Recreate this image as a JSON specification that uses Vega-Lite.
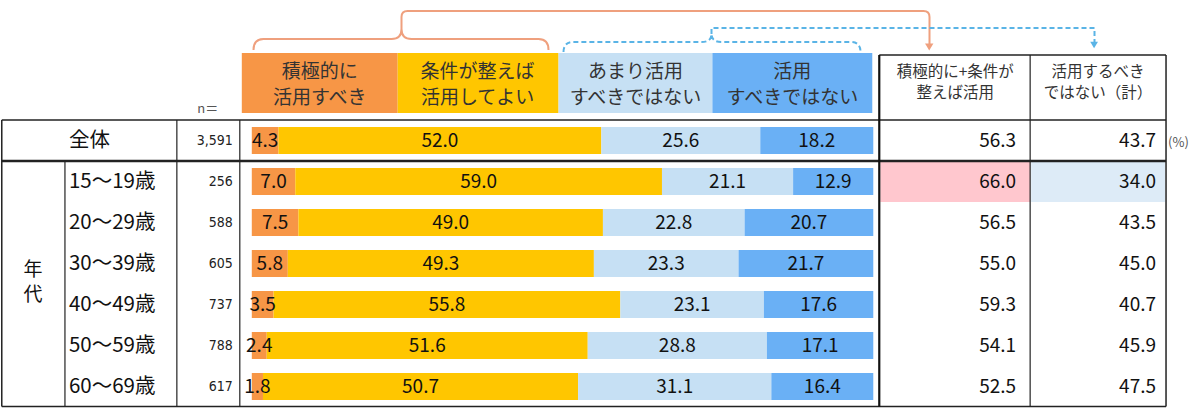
{
  "$schema": "https://vega.github.io/schema/vega-lite/v6.json",
  "width": 1200,
  "height": 410,
  "autosize": {"type": "fit", "contains": "padding"},
  "padding": 0,
  "background": "white",
  "config": {"view": {"stroke": null}, "axis": {"disable": true}, "legend": {"disable": true}},
  "datasets": {
    "answers": [
      {"group": "全体", "opt": 1, "answer": "積極的に活用すべき", "pct": 4.3},
      {"group": "全体", "opt": 2, "answer": "条件が整えば活用してよい", "pct": 52.0},
      {"group": "全体", "opt": 3, "answer": "あまり活用すべきではない", "pct": 25.6},
      {"group": "全体", "opt": 4, "answer": "活用すべきではない", "pct": 18.2},
      {"group": "15～19歳", "opt": 1, "answer": "積極的に活用すべき", "pct": 7.0},
      {"group": "15～19歳", "opt": 2, "answer": "条件が整えば活用してよい", "pct": 59.0},
      {"group": "15～19歳", "opt": 3, "answer": "あまり活用すべきではない", "pct": 21.1},
      {"group": "15～19歳", "opt": 4, "answer": "活用すべきではない", "pct": 12.9},
      {"group": "20～29歳", "opt": 1, "answer": "積極的に活用すべき", "pct": 7.5},
      {"group": "20～29歳", "opt": 2, "answer": "条件が整えば活用してよい", "pct": 49.0},
      {"group": "20～29歳", "opt": 3, "answer": "あまり活用すべきではない", "pct": 22.8},
      {"group": "20～29歳", "opt": 4, "answer": "活用すべきではない", "pct": 20.7},
      {"group": "30～39歳", "opt": 1, "answer": "積極的に活用すべき", "pct": 5.8},
      {"group": "30～39歳", "opt": 2, "answer": "条件が整えば活用してよい", "pct": 49.3},
      {"group": "30～39歳", "opt": 3, "answer": "あまり活用すべきではない", "pct": 23.3},
      {"group": "30～39歳", "opt": 4, "answer": "活用すべきではない", "pct": 21.7},
      {"group": "40～49歳", "opt": 1, "answer": "積極的に活用すべき", "pct": 3.5},
      {"group": "40～49歳", "opt": 2, "answer": "条件が整えば活用してよい", "pct": 55.8},
      {"group": "40～49歳", "opt": 3, "answer": "あまり活用すべきではない", "pct": 23.1},
      {"group": "40～49歳", "opt": 4, "answer": "活用すべきではない", "pct": 17.6},
      {"group": "50～59歳", "opt": 1, "answer": "積極的に活用すべき", "pct": 2.4},
      {"group": "50～59歳", "opt": 2, "answer": "条件が整えば活用してよい", "pct": 51.6},
      {"group": "50～59歳", "opt": 3, "answer": "あまり活用すべきではない", "pct": 28.8},
      {"group": "50～59歳", "opt": 4, "answer": "活用すべきではない", "pct": 17.1},
      {"group": "60～69歳", "opt": 1, "answer": "積極的に活用すべき", "pct": 1.8},
      {"group": "60～69歳", "opt": 2, "answer": "条件が整えば活用してよい", "pct": 50.7},
      {"group": "60～69歳", "opt": 3, "answer": "あまり活用すべきではない", "pct": 31.1},
      {"group": "60～69歳", "opt": 4, "answer": "活用すべきではない", "pct": 16.4}
    ],
    "summary": [
      {"group": "全体", "n": "3,591", "agree": 56.3, "disagree": 43.7},
      {"group": "15～19歳", "n": "256", "agree": 66.0, "disagree": 34.0},
      {"group": "20～29歳", "n": "588", "agree": 56.5, "disagree": 43.5},
      {"group": "30～39歳", "n": "605", "agree": 55.0, "disagree": 45.0},
      {"group": "40～49歳", "n": "737", "agree": 59.3, "disagree": 40.7},
      {"group": "50～59歳", "n": "788", "agree": 54.1, "disagree": 45.9},
      {"group": "60～69歳", "n": "617", "agree": 52.5, "disagree": 47.5}
    ]
  },
  "resolve": {"scale": {"y": "independent", "x": "shared"}},
  "layer": [
    {
      "layer": [
        {
          "data": {"name": "summary"},
          "transform": [{"filter": "datum.group === '15～19歳'"}],
          "mark": {"type": "rect", "color": "#FFC7CE"},
          "encoding": {
            "y": {"field": "group", "type": "nominal", "axis": null,
                  "scale": {"domain": ["全体", "15～19歳", "20～29歳", "30～39歳", "40～49歳", "50～59歳", "60～69歳"], "range": [120, 407], "paddingInner": 0, "paddingOuter": 0}},
            "x": {"datum": 1.01125, "scale": {"domain": [-0.40354, 1.52572], "nice": false, "zero": false}, "axis": null},
            "x2": {"datum": 1.25241}
          }
        },
        {
          "data": {"name": "summary"},
          "transform": [{"filter": "datum.group === '15～19歳'"}],
          "mark": {"type": "rect", "color": "#DDEBF7"},
          "encoding": {
            "y": {"field": "group", "type": "nominal"},
            "x": {"datum": 1.25402},
            "x2": {"datum": 1.46945}
          }
        },
        {
          "data": {"name": "answers"},
          "mark": {"type": "bar", "height": 27},
          "encoding": {
            "y": {"field": "group", "type": "nominal"},
            "x": {"field": "pct", "type": "quantitative", "stack": "normalize", "axis": null},
            "color": {"field": "answer", "type": "nominal", "legend": null,
                      "scale": {"domain": ["積極的に活用すべき", "条件が整えば活用してよい", "あまり活用すべきではない", "活用すべきではない"],
                                "range": ["#F79646", "#FFC600", "#C6E0F4", "#6AB0F5"]}},
            "order": {"field": "opt"}
          }
        },
        {
          "data": {"name": "answers"},
          "mark": {"type": "text", "font": "Noto Sans CJK JP", "fontSize": 19, "color": "#111", "baseline": "middle"},
          "encoding": {
            "y": {"field": "group", "type": "nominal"},
            "x": {"field": "pct", "type": "quantitative", "stack": "normalize", "bandPosition": 0.5},
            "detail": {"field": "answer"},
            "order": {"field": "opt"},
            "text": {"field": "pct", "type": "quantitative", "format": ".1f"}
          }
        },
        {
          "data": {"name": "summary"},
          "mark": {"type": "text", "font": "Noto Sans CJK JP", "fontSize": 20.5, "color": "#111", "align": "left", "baseline": "middle"},
          "encoding": {
            "y": {"field": "group", "type": "nominal"},
            "x": {"datum": -0.2942},
            "text": {"field": "group"}
          }
        },
        {
          "data": {"name": "summary"},
          "mark": {"type": "text", "font": "DejaVu Sans Condensed, Liberation Sans, sans-serif", "fontSize": 14, "color": "#222", "align": "right", "baseline": "middle"},
          "encoding": {
            "y": {"field": "group", "type": "nominal"},
            "x": {"datum": -0.03055},
            "text": {"field": "n"}
          }
        },
        {
          "data": {"name": "summary"},
          "mark": {"type": "text", "font": "Noto Sans CJK JP", "fontSize": 19, "color": "#111", "align": "right", "baseline": "middle"},
          "encoding": {
            "y": {"field": "group", "type": "nominal"},
            "x": {"datum": 1.2299},
            "text": {"field": "agree", "type": "quantitative", "format": ".1f"}
          }
        },
        {
          "data": {"name": "summary"},
          "mark": {"type": "text", "font": "Noto Sans CJK JP", "fontSize": 19, "color": "#111", "align": "right", "baseline": "middle"},
          "encoding": {
            "y": {"field": "group", "type": "nominal"},
            "x": {"datum": 1.45498},
            "text": {"field": "disagree", "type": "quantitative", "format": ".1f"}
          }
        }
      ]
    },
    {
      "data": {"values": [{}]},
      "layer": [
        {
          "mark": {"type": "rect", "color": "#F79646"},
          "encoding": {
            "x": {"datum": -0.01608, "scale": {"domain": [-0.40354, 1.52572], "nice": false, "zero": false}},
            "x2": {"datum": 0.23473},
            "y": {"datum": -1.63415, "scale": {"domain": [-2.92683, 7.07317], "reverse": true, "nice": false, "zero": false}, "axis": null},
            "y2": {"datum": -0.17073}
          }
        },
        {
          "mark": {"type": "rect", "color": "#FFC600"},
          "encoding": {"x": {"datum": 0.23473}, "x2": {"datum": 0.49357}, "y": {"datum": -1.63415}, "y2": {"datum": -0.17073}}
        },
        {
          "mark": {"type": "rect", "color": "#C6E0F4"},
          "encoding": {"x": {"datum": 0.49357}, "x2": {"datum": 0.74116}, "y": {"datum": -1.63415}, "y2": {"datum": -0.17073}}
        },
        {
          "mark": {"type": "rect", "color": "#6AB0F5"},
          "encoding": {"x": {"datum": 0.74116}, "x2": {"datum": 0.99839}, "y": {"datum": -1.63415}, "y2": {"datum": -0.17073}}
        },
        {
          "mark": {"type": "text", "font": "Noto Sans CJK JP", "fontSize": 19, "color": "#333", "lineHeight": 26, "baseline": "middle"},
          "encoding": {"x": {"datum": 0.10932}, "y": {"datum": -1.17073}, "text": {"value": ["積極的に", "活用すべき"]}}
        },
        {
          "mark": {"type": "text", "font": "Noto Sans CJK JP", "fontSize": 19, "color": "#333", "lineHeight": 26, "baseline": "middle"},
          "encoding": {"x": {"datum": 0.36334}, "y": {"datum": -1.17073}, "text": {"value": ["条件が整えば", "活用してよい"]}}
        },
        {
          "mark": {"type": "text", "font": "Noto Sans CJK JP", "fontSize": 19, "color": "#333", "lineHeight": 26, "baseline": "middle"},
          "encoding": {"x": {"datum": 0.61736}, "y": {"datum": -1.17073}, "text": {"value": ["あまり活用", "すべきではない"]}}
        },
        {
          "mark": {"type": "text", "font": "Noto Sans CJK JP", "fontSize": 19, "color": "#333", "lineHeight": 26, "baseline": "middle"},
          "encoding": {"x": {"datum": 0.86977}, "y": {"datum": -1.17073}, "text": {"value": ["活用", "すべきではない"]}}
        },
        {
          "mark": {"type": "text", "font": "Noto Sans CJK JP", "fontSize": 15.5, "color": "#333", "lineHeight": 21, "baseline": "middle"},
          "encoding": {"x": {"datum": 1.13183}, "y": {"datum": -1.17073}, "text": {"value": ["積極的に+条件が", "整えば活用"]}}
        },
        {
          "mark": {"type": "text", "font": "Noto Sans CJK JP", "fontSize": 15.5, "color": "#333", "lineHeight": 21, "baseline": "middle"},
          "encoding": {"x": {"datum": 1.36174}, "y": {"datum": -1.17073}, "text": {"value": ["活用するべき", "ではない（計）"]}}
        },
        {
          "mark": {"type": "text", "font": "Noto Sans CJK JP", "fontSize": 13, "color": "#555", "baseline": "middle"},
          "encoding": {"x": {"datum": -0.07074}, "y": {"datum": -0.26829}, "text": {"value": "n＝"}}
        },
        {
          "mark": {"type": "text", "font": "Noto Sans CJK JP", "fontSize": 13, "color": "#555", "align": "left", "baseline": "middle"},
          "encoding": {"x": {"datum": 1.47428}, "y": {"datum": 0.561}, "text": {"value": "(%)"}}
        },
        {
          "mark": {"type": "text", "font": "Noto Sans CJK JP", "fontSize": 19, "color": "#111", "lineHeight": 25, "baseline": "middle"},
          "encoding": {"x": {"datum": -0.352}, "y": {"datum": 3.659}, "text": {"value": ["年", "代"]}}
        },
        {
          "mark": {"type": "rule", "color": "#222", "strokeWidth": 1.5},
          "encoding": {"x": {"datum": -0.4023}, "x2": {"datum": 1.47106}, "y": {"datum": 0}, "y2": {"datum": 0}}
        },
        {
          "mark": {"type": "rule", "color": "#222", "strokeWidth": 2.5},
          "encoding": {"x": {"datum": -0.4023}, "x2": {"datum": 1.47106}, "y": {"datum": 1}, "y2": {"datum": 1}}
        },
        {
          "mark": {"type": "rule", "color": "#222", "strokeWidth": 1.5},
          "encoding": {"x": {"datum": -0.4023}, "x2": {"datum": 1.47106}, "y": {"datum": 6.99}, "y2": {"datum": 6.99}}
        },
        {
          "mark": {"type": "rule", "color": "#222", "strokeWidth": 1.5},
          "encoding": {"x": {"datum": 1.00965}, "x2": {"datum": 1.47106}, "y": {"datum": -1.58537}, "y2": {"datum": -1.58537}}
        },
        {
          "mark": {"type": "rule", "color": "#222", "strokeWidth": 1.5},
          "encoding": {"x": {"datum": -0.4023}, "x2": {"datum": -0.4023}, "y": {"datum": 0}, "y2": {"datum": 6.99}}
        },
        {
          "mark": {"type": "rule", "color": "#222", "strokeWidth": 1.2},
          "encoding": {"x": {"datum": -0.30064}, "x2": {"datum": -0.30064}, "y": {"datum": 1}, "y2": {"datum": 6.99}}
        },
        {
          "mark": {"type": "rule", "color": "#222", "strokeWidth": 1.2},
          "encoding": {"x": {"datum": -0.12058}, "x2": {"datum": -0.12058}, "y": {"datum": 0}, "y2": {"datum": 6.99}}
        },
        {
          "mark": {"type": "rule", "color": "#222", "strokeWidth": 1.2},
          "encoding": {"x": {"datum": -0.01929}, "x2": {"datum": -0.01929}, "y": {"datum": 0}, "y2": {"datum": 6.99}}
        },
        {
          "mark": {"type": "rule", "color": "#111", "strokeWidth": 2.2},
          "encoding": {"x": {"datum": 1.00965}, "x2": {"datum": 1.00965}, "y": {"datum": -1.58537}, "y2": {"datum": 6.99}}
        },
        {
          "mark": {"type": "rule", "color": "#222", "strokeWidth": 1.2},
          "encoding": {"x": {"datum": 1.25241}, "x2": {"datum": 1.25241}, "y": {"datum": -1.58537}, "y2": {"datum": 6.99}}
        },
        {
          "mark": {"type": "rule", "color": "#222", "strokeWidth": 1.5},
          "encoding": {"x": {"datum": 1.47106}, "x2": {"datum": 1.47106}, "y": {"datum": -1.58537}, "y2": {"datum": 6.99}}
        },
        {
          "mark": {"type": "point", "shape": "M-3.47,0.2Q-3.47,0.09,-3.37,0.09L-2.09,0.09Q-1.99,0.09,-1.99,-0.01Q-1.99,0.09,-1.89,0.09L-0.62,0.09Q-0.52,0.09,-0.52,0.2M-1.99,-0.01L-1.99,-0.13Q-1.99,-0.19,-1.93,-0.19L3.23,-0.19Q3.29,-0.19,3.29,-0.13L3.29,0.14",
                   "size": 40000, "filled": false, "stroke": "#EFA07E", "strokeWidth": 2, "opacity": 1},
          "encoding": {"x": {"datum": 0.56109}, "y": {"datum": -2.19512}}
        },
        {
          "mark": {"type": "point", "shape": "triangle-down", "size": 70, "filled": true, "color": "#EFA07E", "opacity": 1},
          "encoding": {"x": {"datum": 1.09003}, "y": {"datum": -1.7805}}
        },
        {
          "mark": {"type": "point", "shape": "M-0.37,0.22Q-0.37,0.12,-0.27,0.12L1.01,0.12Q1.11,0.12,1.11,0.04Q1.11,0.12,1.21,0.12L2.5,0.12Q2.6,0.12,2.6,0.22M1.11,0.04L1.11,-0.02L4.94,-0.02L4.94,0.14",
                   "size": 40000, "filled": false, "stroke": "#5AB4E6", "strokeWidth": 2, "strokeDash": [5, 3], "opacity": 1},
          "encoding": {"x": {"datum": 0.56109}, "y": {"datum": -2.19512}}
        },
        {
          "mark": {"type": "point", "shape": "triangle-down", "size": 60, "filled": true, "color": "#5AB4E6", "opacity": 1},
          "encoding": {"x": {"datum": 1.35531}, "y": {"datum": -1.829}}
        }
      ]
    }
  ]
}
